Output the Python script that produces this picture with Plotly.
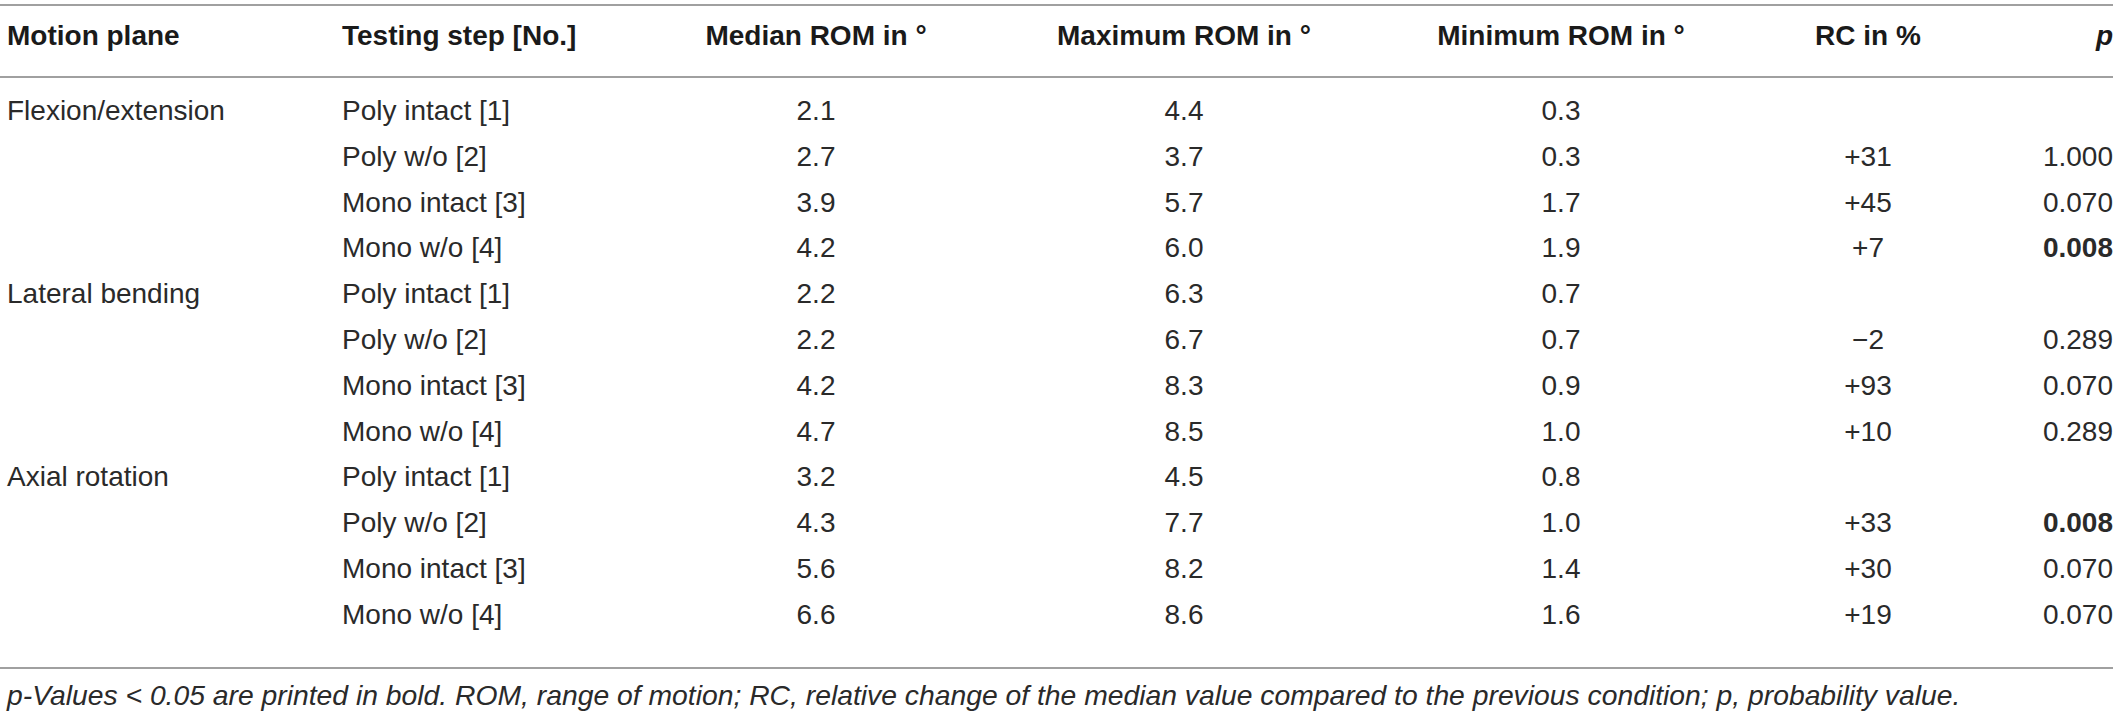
import plotly.graph_objects as go

# table content
headers = ["Motion plane", "Testing step [No.]", "Median ROM in °", "Maximum ROM in °",
           "Minimum ROM in °", "RC in %", "p"]
motion_planes = ["Flexion/extension", "", "", "",
                 "Lateral bending", "", "", "",
                 "Axial rotation", "", "", ""]
testing_steps = ["Poly intact [1]", "Poly w/o [2]", "Mono intact [3]", "Mono w/o [4]"] * 3
median_rom = ["2.1", "2.7", "3.9", "4.2", "2.2", "2.2", "4.2", "4.7", "3.2", "4.3", "5.6", "6.6"]
max_rom = ["4.4", "3.7", "5.7", "6.0", "6.3", "6.7", "8.3", "8.5", "4.5", "7.7", "8.2", "8.6"]
min_rom = ["0.3", "0.3", "1.7", "1.9", "0.7", "0.7", "0.9", "1.0", "0.8", "1.0", "1.4", "1.6"]
rc_pct = ["", "+31", "+45", "+7", "", "\u22122", "+93", "+10", "", "+33", "+30", "+19"]
p_values = ["", "1.000", "0.070", "0.008", "", "0.289", "0.070", "0.289", "", "0.008", "0.070", "0.070"]
footnote = ("p-Values &lt; 0.05 are printed in bold. ROM, range of motion; RC, relative change "
            "of the median value compared to the previous condition; p, probability value.")

W, H = 2119, 717
FONT = "Liberation Sans"
FS = 28
ROW0, ROW_H = 113, 45.8
HEAD_Y = 38

rows_y = [ROW0 + ROW_H * i for i in range(len(testing_steps))]

def p_fmt(v):
    return f"<b>{v}</b>" if v and float(v) < 0.05 else v

# column x position and alignment
cols = [
    (motion_planes, 7, "middle right"),
    (testing_steps, 342, "middle right"),
    (median_rom, 816, "middle center"),
    (max_rom, 1184, "middle center"),
    (min_rom, 1561, "middle center"),
    (rc_pct, 1868, "middle center"),
    ([p_fmt(v) for v in p_values], 2113, "middle left"),
]

fig = go.Figure()
for (vals, x, pos), head in zip(cols, headers):
    fig.add_trace(go.Scatter(
        x=[x] * len(vals), y=rows_y, mode="text", text=vals, textposition=pos,
        textfont=dict(family=FONT, size=FS, color="#2a2a2a"), showlegend=False,
        hoverinfo="skip", cliponaxis=False))
    label = "<b><i>p</i></b>" if head == "p" else f"<b>{head}</b>"
    fig.add_trace(go.Scatter(
        x=[x], y=[HEAD_Y], mode="text", text=[label], textposition=pos,
        textfont=dict(family=FONT, size=FS, color="#1a1a1a"), showlegend=False,
        hoverinfo="skip", cliponaxis=False))

fig.add_trace(go.Scatter(
    x=[7], y=[698], mode="text", text=[f"<i>{footnote}</i>"], textposition="middle right",
    textfont=dict(family=FONT, size=28.3, color="#2a2a2a"), showlegend=False,
    hoverinfo="skip", cliponaxis=False))

for y in [5, 77, 668]:
    fig.add_shape(type="line", x0=0, x1=2113, y0=y, y1=y, xref="x", yref="y",
                  line=dict(color="#a0a0a0", width=2))

fig.update_layout(
    width=W, height=H, margin=dict(l=0, r=0, t=0, b=0),
    paper_bgcolor="white", plot_bgcolor="white",
    xaxis=dict(range=[0, W], visible=False, fixedrange=True),
    yaxis=dict(range=[H, 0], visible=False, fixedrange=True),
)
fig.write_html("out.html", config={"displayModeBar": False},
               post_script="document.body.style.margin='0';")
